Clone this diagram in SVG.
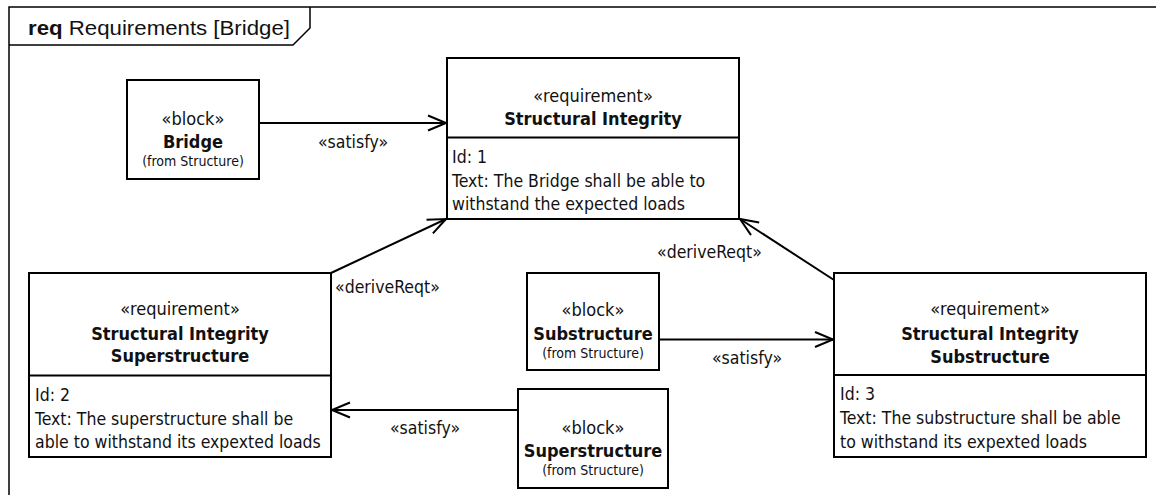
<svg xmlns="http://www.w3.org/2000/svg" width="1156" height="495" viewBox="0 0 1156 495">
<style>
text{font-family:"DejaVu Sans Condensed","DejaVu Sans",sans-serif;font-stretch:condensed;fill:#111}
.st{font-size:18px;text-anchor:middle}
.nm{font-size:18px;font-weight:bold;text-anchor:middle}
.fr{font-size:14px;text-anchor:middle}
.bd{font-size:17.5px}
.lb{font-size:17.5px}
.box{fill:#fff;stroke:#000;stroke-width:2}
.div{stroke:#000;stroke-width:2}
.con{fill:none;stroke:#000;stroke-width:2}
.title{font-family:"Liberation Sans",Arial,sans-serif;font-stretch:normal;font-size:20px}
</style>
<defs>
<marker id="open" viewBox="-20 -10 22 20" refX="0" refY="0" markerWidth="22" markerHeight="20" markerUnits="userSpaceOnUse" orient="auto" overflow="visible">
<path d="M-18,-7.5 L0,0 L-18,7.5" fill="none" stroke="#000" stroke-width="2"/>
</marker>
</defs>
<rect width="1156" height="495" fill="#fff"/>
<g id="frame">
<path d="M9,495 V7 H1156" fill="none" stroke="#000" stroke-width="1.5"/>
<path d="M9,45 H293 L310,28 V7" fill="none" stroke="#000" stroke-width="1.5"/>
<text class="title" x="28" y="35" textLength="262" lengthAdjust="spacingAndGlyphs"><tspan font-weight="bold">req</tspan> Requirements [Bridge]</text>
</g>
<g id="connectors">
<path class="con" d="M259,123 H446" marker-end="url(#open)"/>
<path class="con" d="M331,273 L446,219" marker-end="url(#open)"/>
<path class="con" d="M834,280 L740,219" marker-end="url(#open)"/>
<path class="con" d="M659,339.5 H833" marker-end="url(#open)"/>
<path class="con" d="M518,410 H332" marker-end="url(#open)"/>
<text class="lb" x="353" y="148" text-anchor="middle">«satisfy»</text>
<text class="lb" x="335" y="293">«deriveReqt»</text>
<text class="lb" x="657" y="258">«deriveReqt»</text>
<text class="lb" x="747" y="364" text-anchor="middle">«satisfy»</text>
<text class="lb" x="425" y="434" text-anchor="middle">«satisfy»</text>
</g>
<g id="bridge">
<rect class="box" x="127" y="80" width="132" height="99"/>
<text class="st" x="193" y="124.5">«block»</text>
<text class="nm" x="193" y="147.5">Bridge</text>
<text class="fr" x="193" y="166">(from Structure)</text>
</g>
<g id="req-structural-integrity">
<rect class="box" x="447" y="58" width="292" height="161"/>
<line class="div" x1="447" y1="137.5" x2="739" y2="137.5"/>
<text class="st" x="593" y="102">«requirement»</text>
<text class="nm" x="593" y="125">Structural Integrity</text>
<text class="bd" x="452" y="163">Id: 1</text>
<text class="bd" x="452" y="187">Text: The Bridge shall be able to</text>
<text class="bd" x="452" y="210">withstand the expected loads</text>
</g>
<g id="req-superstructure">
<rect class="box" x="29" y="273" width="302" height="184"/>
<line class="div" x1="29" y1="375.5" x2="331" y2="375.5"/>
<text class="st" x="180" y="315">«requirement»</text>
<text class="nm" x="180" y="339.5">Structural Integrity</text>
<text class="nm" x="180" y="362">Superstructure</text>
<text class="bd" x="35" y="400.5">Id: 2</text>
<text class="bd" x="35" y="425">Text: The superstructure shall be</text>
<text class="bd" x="35" y="448">able to withstand its expexted loads</text>
</g>
<g id="substructure">
<rect class="box" x="527" y="273" width="132" height="97"/>
<text class="st" x="593" y="316">«block»</text>
<text class="nm" x="593" y="339.5">Substructure</text>
<text class="fr" x="593" y="358">(from Structure)</text>
</g>
<g id="req-substructure">
<rect class="box" x="834" y="273" width="312" height="184"/>
<line class="div" x1="834" y1="375" x2="1146" y2="375"/>
<text class="st" x="990" y="315">«requirement»</text>
<text class="nm" x="990" y="339.5">Structural Integrity</text>
<text class="nm" x="990" y="362.5">Substructure</text>
<text class="bd" x="840" y="400">Id: 3</text>
<text class="bd" x="840" y="424">Text: The substructure shall be able</text>
<text class="bd" x="840" y="447.5">to withstand its expexted loads</text>
</g>
<g id="superstructure">
<rect class="box" x="518" y="389" width="150" height="99"/>
<text class="st" x="593" y="433.5">«block»</text>
<text class="nm" x="593" y="456.5">Superstructure</text>
<text class="fr" x="593" y="475">(from Structure)</text>
</g>
</svg>
